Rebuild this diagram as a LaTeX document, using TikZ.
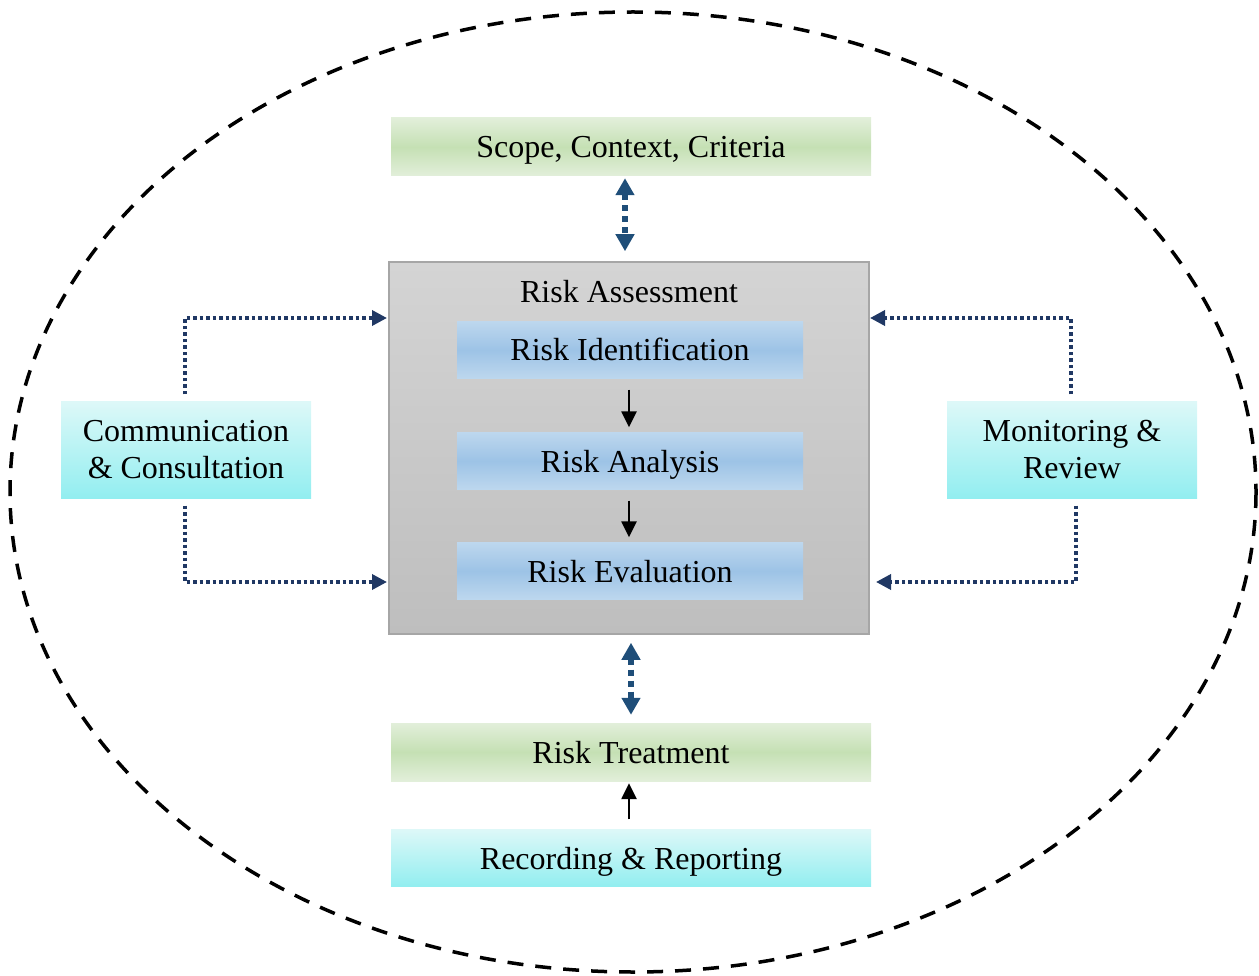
\documentclass[tikz,border=0pt]{standalone}
\usepackage{fontspec}
\setmainfont{Liberation Serif}
\usetikzlibrary{arrows.meta, shapes}
\tikzset{>=latex}
\definecolor{myblue}{RGB}{31, 78, 121}
\definecolor{mynavy}{RGB}{32, 56, 100}
\definecolor{mygreen1}{RGB}{226, 239, 218}
\definecolor{mygreen2}{RGB}{197, 224, 180}
\definecolor{myblue1}{RGB}{189, 215, 238}
\definecolor{myblue2}{RGB}{157, 195, 230}
\definecolor{mycyan1}{RGB}{221, 248, 248}
\definecolor{mycyan2}{RGB}{146, 238, 240}
\definecolor{mygray1}{RGB}{212, 212, 212}
\definecolor{mygray2}{RGB}{190, 190, 190}
\definecolor{mygray3}{RGB}{166, 166, 166}
\tikzset{
  oneline/.style = {text height = 26pt, text depth = 4pt},
  greenbox/.style = {rectangle, oneline, inner sep = 0pt, minimum width = 480pt, minimum height = 58pt,
    top color = mygreen1, bottom color = mygreen1, middle color = mygreen2},
  bluebox/.style = {rectangle, oneline, inner sep = 0pt, minimum width = 346pt, minimum height = 57pt,
    top color = myblue1, bottom color = myblue1, middle color = myblue2},
  cyanbox/.style = {rectangle, inner sep = 0pt, align = center,
    top color = mycyan1, bottom color = mycyan2},
  dblink/.style = {draw = myblue, line width = 6pt, dash pattern = on 6pt off 5pt,
    {Triangle[width = 18pt, length = 17pt]}-{Triangle[width = 18pt, length = 17pt]}},
  dotlink/.style = {draw = mynavy, line width = 3.5pt, dash pattern = on 3.5pt off 3pt,
    -{Triangle[width = 15pt, length = 15pt]}},
  solidlink/.style = {draw = black, line width = 2.5pt, -{Triangle[width = 15pt, length = 16pt]}}
}

\begin{document}
\begin{tikzpicture}[x = 1pt, y = -1pt, font = \fontsize{32}{37}\selectfont]
\useasboundingbox (0, 0) rectangle (1259, 976);
\draw[line width = 3.5pt, dash pattern = on 16pt off 12pt] (633, 492) ellipse [x radius = 623, y radius = 480];

% main blocks
\node[greenbox] (scope) at (631, 147) {Scope, Context, Criteria};
\node[rectangle, draw = mygray3, line width = 1.5pt, top color = mygray1, bottom color = mygray2,
  minimum width = 480pt, minimum height = 372pt] (ra) at (629, 448) {};
\node[oneline] (ratitle) at (629, 292) {Risk Assessment};
\node[bluebox] (rid) at (630, 350) {Risk Identification};
\node[bluebox] (ran) at (630, 461) {Risk Analysis};
\node[bluebox] (rev) at (630, 571) {Risk Evaluation};
\node[cyanbox, minimum width = 250pt, minimum height = 97pt] (comm) at (186, 450) {Communication\\ \& Consultation};
\node[cyanbox, minimum width = 250pt, minimum height = 97pt] (mon) at (1072, 450) {Monitoring \&\\ Review};
\node[greenbox] (treat) at (631, 752) {Risk Treatment};
\node[cyanbox, oneline, minimum width = 480pt, minimum height = 57pt] (rec) at (631, 858) {Recording \& Reporting};

% arrow ends on the assessment box
\coordinate (raUL) at (387, 318);
\coordinate (raLL) at (387, 582);
\coordinate (raUR) at (870, 318);
\coordinate (raLR) at (876, 582);

\draw[dblink, shorten <= 2pt, shorten >= 10pt] ([xshift = -6pt]scope.south) -- ([xshift = -4pt]ra.north);
\draw[dblink, shorten <= 8pt, shorten >= 8pt] (ra.south -| treat.north) -- (treat.north);

\draw[solidlink, shorten <= 11pt, shorten >= 5pt] ([xshift = -1pt]rid.south) -- ([xshift = -1pt]ran.north);
\draw[solidlink, shorten <= 11pt, shorten >= 5pt] ([xshift = -1pt]ran.south) -- ([xshift = -1pt]rev.north);
\draw[solidlink, shorten <= 10pt, shorten >= 2pt] ([xshift = -2pt]rec.north) -- ([xshift = -2pt]treat.south);

\draw[dotlink, shorten <= 7pt] ([xshift = -1pt]comm.north) |- (raUL);
\draw[dotlink, shorten <= 7pt] ([xshift = -1pt]comm.south) |- (raLL);
\draw[dotlink, shorten <= 7pt] ([xshift = -1pt]mon.north) |- (raUR);
\draw[dotlink, shorten <= 7pt] ([xshift = 4pt]mon.south) |- (raLR);
\end{tikzpicture}
\end{document}
